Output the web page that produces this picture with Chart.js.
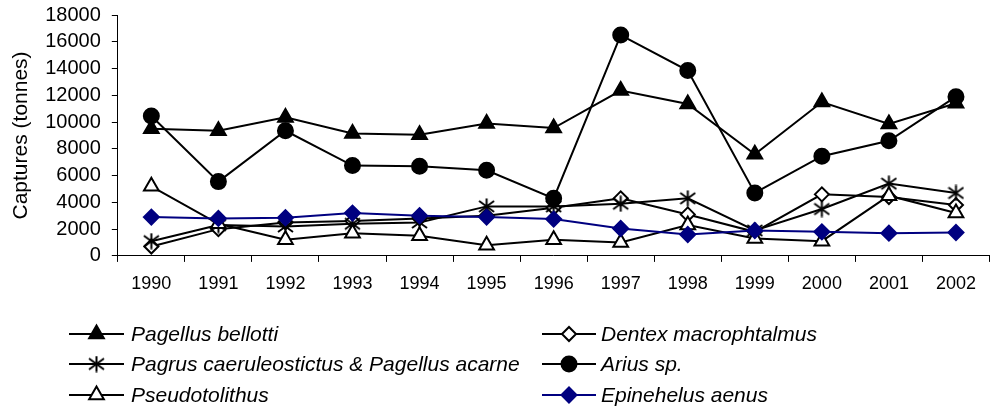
<!DOCTYPE html>
<html>
<head>
<meta charset="utf-8">
<script src="https://cdn.jsdelivr.net/npm/chart.js@4"></script>
<style>
    html, body { margin: 0; padding: 0; background: #fff; overflow: hidden; }
    #wrap { width: 1000px; height: 414px; }
</style>
</head>
<body>
<div id="wrap"><canvas id="capturesChart" width="1000" height="414"></canvas></div>
<script>
var years = ['1990', '1991', '1992', '1993', '1994', '1995', '1996', '1997', '1998', '1999', '2000', '2001', '2002'];
var yTicks = [0, 2000, 4000, 6000, 8000, 10000, 12000, 14000, 16000, 18000];

var pagellusBellotti = [9500, 9350, 10350, 9150, 9050, 9900, 9550, 12350, 11350, 7600, 11500, 9850, 11400];
var dentexMacrophtalmus = [700, 2000, 2500, 2600, 2800, 3000, 3600, 4300, 3100, 1800, 4600, 4400, 3800];
var pagrusPagellus = [1100, 2300, 2200, 2400, 2500, 3700, 3700, 3900, 4300, 1900, 3500, 5400, 4700];
var ariusSp = [10450, 5550, 9350, 6750, 6700, 6400, 4300, 16500, 13850, 4700, 7450, 8600, 11900];
var pseudotolithus = [5200, 2400, 1200, 1700, 1500, 800, 1200, 1000, 2300, 1300, 1100, 4500, 3200];
var epinehelusAenus = [2900, 2800, 2850, 3200, 3000, 2900, 2750, 2050, 1600, 1900, 1800, 1700, 1750];

var FONT = '"Liberation Sans", Arial, sans-serif';
var NAVY = '#000080';

// asterisk marker (vertical bar + X), Excel style
function makeAsterisk() {
    var c = document.createElement('canvas');
    c.width = 17; c.height = 17;
    var g = c.getContext('2d');
    g.strokeStyle = '#000';
    g.lineWidth = 2;
    g.beginPath();
    g.moveTo(8.5, 0.5); g.lineTo(8.5, 16.5);
    g.moveTo(1, 3); g.lineTo(16, 14);
    g.moveTo(1, 14); g.lineTo(16, 3);
    g.stroke();
    return c;
}
var asterisk = makeAsterisk();

function series(label, data, color, style, radius, fill, order) {
    return {
        label: label,
        data: data,
        borderColor: color,
        borderWidth: 2,
        pointStyle: style,
        pointRadius: radius,
        pointHoverRadius: radius,
        pointBackgroundColor: fill,
        pointBorderColor: color,
        pointBorderWidth: 2,
        tension: 0,
        fill: false,
        order: order
    };
}

var datasets = [
    series('Pagellus bellotti', pagellusBellotti, '#000', 'triangle', 8.5, '#000', 5),
    series('Dentex macrophtalmus', dentexMacrophtalmus, '#000', 'rectRot', 7, '#fff', 4),
    series('Pagrus caeruleostictus & Pagellus acarne', pagrusPagellus, '#000', asterisk, 8, '#000', 3),
    series('Arius sp.', ariusSp, '#000', 'circle', 7.5, '#000', 2),
    series('Pseudotolithus', pseudotolithus, '#000', 'triangle', 8.5, '#fff', 1),
    series('Epinehelus aenus', epinehelusAenus, NAVY, 'rectRot', 7.5, NAVY, 0)
];

// legend in two columns under the plot, drawn like the Excel one
var legendBoxes = [
    { ds: 0, x1: 69, x2: 124, tx: 131, y: 334 },
    { ds: 1, x1: 542, x2: 596, tx: 601, y: 334 },
    { ds: 2, x1: 69, x2: 124, tx: 131, y: 364 },
    { ds: 3, x1: 542, x2: 596, tx: 601, y: 364 },
    { ds: 4, x1: 69, x2: 124, tx: 131, y: 395 },
    { ds: 5, x1: 542, x2: 596, tx: 601, y: 395 }
];

var twoColumnLegend = {
    id: 'twoColumnLegend',
    afterDraw: function (chart) {
        var ctx = chart.ctx;
        ctx.save();
        legendBoxes.forEach(function (b) {
            var ds = chart.data.datasets[b.ds];
            ctx.strokeStyle = ds.borderColor;
            ctx.lineWidth = 2;
            ctx.beginPath();
            ctx.moveTo(b.x1, b.y);
            ctx.lineTo(b.x2, b.y);
            ctx.stroke();
            ctx.fillStyle = ds.pointBackgroundColor;
            ctx.strokeStyle = ds.pointBorderColor;
            ctx.lineWidth = 2;
            Chart.helpers.drawPoint(ctx, {
                pointStyle: ds.pointStyle,
                radius: ds.pointRadius,
                rotation: 0,
                borderWidth: 2
            }, (b.x1 + b.x2) / 2, b.y);
            ctx.fillStyle = '#000';
            ctx.font = 'italic 21px ' + FONT;
            ctx.textBaseline = 'middle';
            ctx.textAlign = 'left';
            ctx.fillText(ds.label, b.tx, b.y + 1);
        });
        ctx.restore();
    }
};

new Chart(document.getElementById('capturesChart'), {
    type: 'line',
    data: { labels: years, datasets: datasets },
    options: {
        responsive: false,
        animation: false,
        events: [],
        layout: { padding: { left: 0, top: 0, right: 5, bottom: 108.5 } },
        plugins: {
            legend: { display: false },
            tooltip: { enabled: false }
        },
        scales: {
            x: {
                offset: true,
                grid: { display: true, drawOnChartArea: false, offset: true, tickLength: 6, color: '#000' },
                border: { display: true, color: '#000', width: 1 },
                ticks: { color: '#000', font: { family: FONT, size: 18 }, padding: 11, maxRotation: 0, autoSkip: false }
            },
            y: {
                min: 0,
                max: 18000,
                afterBuildTicks: function (scale) {
                    scale.ticks = yTicks.map(function (v) { return { value: v }; });
                },
                afterFit: function (scale) {
                    // plot top sits at 15px like the original
                    scale.paddingTop = 15;
                    scale.paddingBottom = 0;
                },
                grid: { display: true, drawOnChartArea: false, tickLength: 6, color: '#000' },
                border: { display: true, color: '#000', width: 1 },
                ticks: {
                    color: '#000',
                    font: { family: FONT, size: 20 },
                    padding: 11,
                    autoSkip: false,
                    callback: function (v) { return String(v); }
                },
                title: {
                    display: true,
                    text: 'Captures (tonnes)',
                    color: '#000',
                    font: { family: FONT, size: 21 },
                    padding: { top: 9, bottom: 0 }
                }
            }
        }
    },
    plugins: [twoColumnLegend]
});
</script>
</body>
</html>
